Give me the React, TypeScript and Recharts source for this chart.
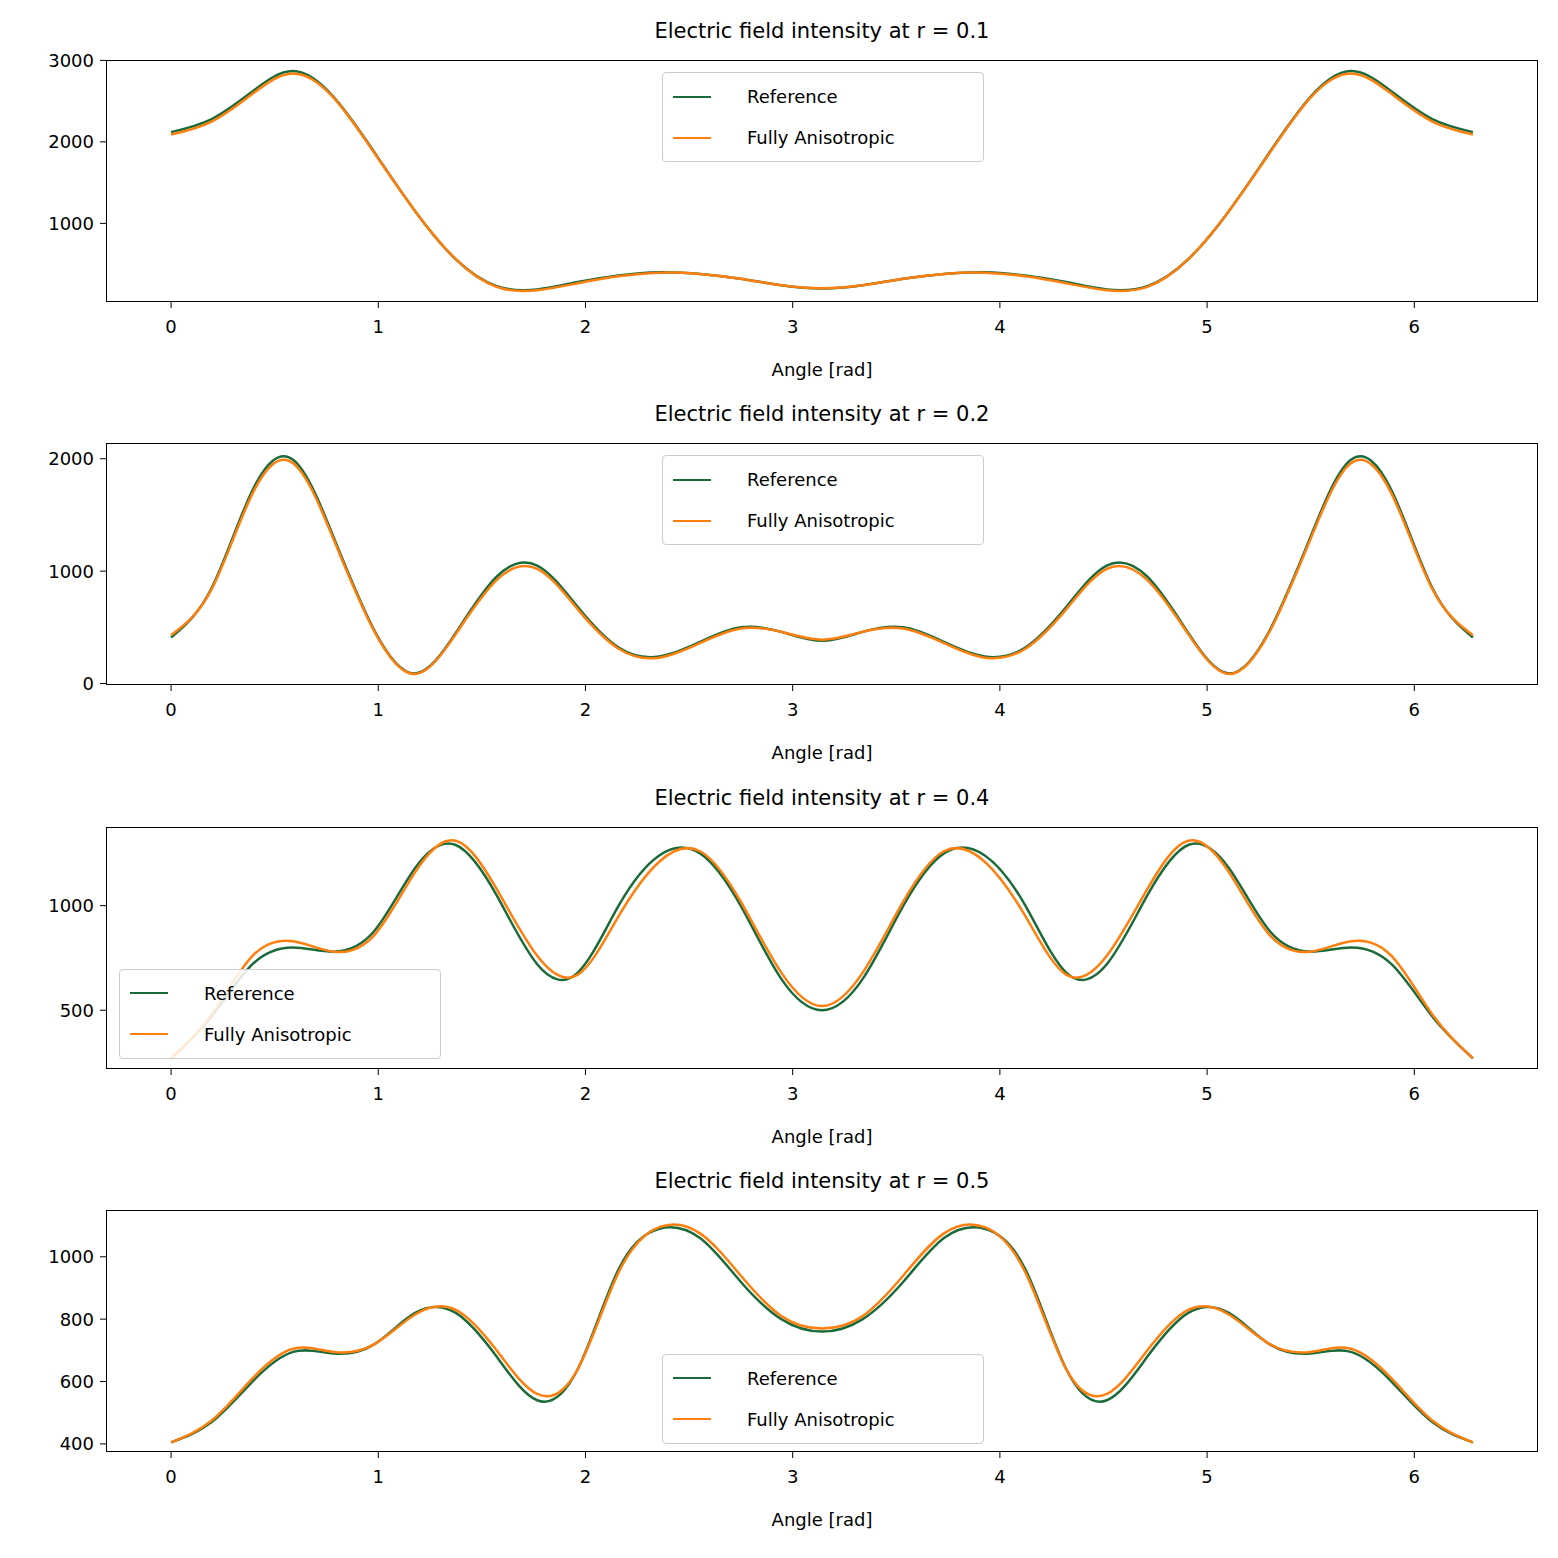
import { LineChart, Line, XAxis, YAxis } from "recharts";

// angles 0..2π at π/16 steps
const angles = [
  0, 0.196, 0.393, 0.589, 0.785, 0.982, 1.178, 1.374, 1.571, 1.767, 1.963, 2.16, 2.356, 2.553, 2.749, 2.945,
  3.142, 3.338, 3.534, 3.73, 3.927, 4.123, 4.32, 4.516, 4.712, 4.909, 5.105, 5.301, 5.498, 5.694, 5.89, 6.087, 6.283,
];

const ref01 = [2120, 2280, 2620, 2870, 2550, 1870, 1150, 560, 230, 190, 280, 360, 400, 380, 320, 240, 200, 240, 320, 380, 400, 360, 280, 190, 230, 560, 1150, 1870, 2550, 2870, 2620, 2280, 2120];
const ani01 = [2090, 2250, 2590, 2840, 2540, 1860, 1150, 560, 220, 180, 265, 350, 395, 380, 320, 240, 205, 240, 320, 380, 395, 350, 265, 180, 220, 560, 1150, 1860, 2540, 2840, 2590, 2250, 2090];

const ref02 = [410, 850, 1720, 1990, 1300, 470, 90, 450, 950, 1050, 680, 320, 240, 370, 500, 460, 380, 460, 500, 370, 240, 320, 680, 1050, 950, 450, 90, 470, 1300, 1990, 1720, 850, 410];
const ani02 = [430, 840, 1690, 1960, 1280, 460, 85, 440, 920, 1020, 660, 310, 230, 360, 490, 460, 390, 460, 490, 360, 230, 310, 660, 1020, 920, 440, 85, 460, 1280, 1960, 1690, 840, 430];

const ref04 = [270, 470, 720, 800, 780, 880, 1180, 1290, 1050, 720, 680, 1000, 1240, 1250, 1000, 650, 500, 650, 1000, 1250, 1240, 1000, 680, 720, 1050, 1290, 1180, 880, 780, 800, 720, 470, 270];
const ani04 = [270, 480, 760, 830, 780, 860, 1160, 1310, 1080, 760, 670, 950, 1210, 1260, 1020, 680, 520, 680, 1020, 1260, 1210, 950, 670, 760, 1080, 1310, 1160, 860, 780, 830, 760, 480, 270];

const ref05 = [405, 470, 600, 695, 690, 720, 820, 820, 680, 540, 640, 960, 1090, 1060, 920, 800, 760, 800, 920, 1060, 1090, 960, 640, 540, 680, 820, 820, 720, 690, 695, 600, 470, 405];
const ani05 = [405, 475, 610, 705, 695, 720, 815, 830, 700, 560, 640, 950, 1095, 1075, 940, 810, 770, 810, 940, 1075, 1095, 950, 640, 560, 700, 830, 815, 720, 695, 705, 610, 475, 405];

const xTicks = [0, 1, 2, 3, 4, 5, 6];

const panels = [
  { r: "0.1", ref: ref01, ani: ani01, domain: [35, 3005], ticks: [1000, 2000, 3000], legend: { left: 662, top: 72 } },
  { r: "0.2", ref: ref02, ani: ani02, domain: [-13, 2140], ticks: [0, 1000, 2000], legend: { left: 662, top: 72 } },
  { r: "0.4", ref: ref04, ani: ani04, domain: [219, 1376], ticks: [500, 1000], legend: { left: 119, top: 202 } },
  { r: "0.5", ref: ref05, ani: ani05, domain: [374, 1150], ticks: [400, 600, 800, 1000], legend: { left: 662, top: 204 } },
];

const GREEN = "#1b6b3a";
const ORANGE = "#ff7f0e";
const FONT = "DejaVu Sans, sans-serif";
const STEP = 383.3;

function LegendBox({ left, top }: { left: number; top: number }) {
  const row = (color: string, label: string) => (
    <div style={{ display: "flex", alignItems: "center", height: 41 }}>
      <div style={{ width: 38, height: 0, borderTop: `2.5px solid ${color}`, marginRight: 36 }} />
      <span>{label}</span>
    </div>
  );
  return (
    <div
      style={{
        position: "absolute", left, top, width: 322, height: 90, boxSizing: "border-box",
        border: "1px solid #ccc", borderRadius: 4, background: "rgba(255,255,255,0.85)",
        padding: "3px 10px", fontFamily: FONT, fontSize: 18,
      }}
    >
      {row(GREEN, "Reference")}
      {row(ORANGE, "Fully Anisotropic")}
    </div>
  );
}

function Panel({ p, index }: { p: (typeof panels)[number]; index: number }) {
  const data = angles.map((a, i) => ({ a, ref: p.ref[i], ani: p.ani[i] }));
  const tickStyle = { fontSize: 18, fill: "#000", fontFamily: FONT };
  return (
    <div style={{ position: "absolute", left: 0, top: index * STEP, width: 1558, height: 383 }}>
      <div style={{ position: "absolute", top: 19, left: 106, width: 1432, textAlign: "center", fontFamily: FONT, fontSize: 21 }}>
        Electric field intensity at r = {p.r}
      </div>
      <LineChart width={1558} height={383} data={data} margin={{ top: 60, right: 20, bottom: 51, left: 46 }}>
        <XAxis
          dataKey="a" type="number" domain={[-0.314, 6.597]} ticks={xTicks} allowDataOverflow
          axisLine={false} tickLine={{ stroke: "#000" }} tickSize={6} tick={{ ...tickStyle, dy: 10 }} height={30}
        />
        <YAxis
          type="number" domain={p.domain} ticks={p.ticks} allowDataOverflow width={60}
          axisLine={false} tickLine={{ stroke: "#000" }} tickSize={6} tick={{ ...tickStyle, dx: -4 }}
        />
        <Line dataKey="ref" type="natural" stroke={GREEN} strokeWidth={2.5} dot={false} isAnimationActive={false} />
        <Line dataKey="ani" type="natural" stroke={ORANGE} strokeWidth={2.5} dot={false} isAnimationActive={false} />
      </LineChart>
      <div style={{ position: "absolute", left: 106, top: 60, width: 1432, height: 242, boxSizing: "border-box", border: "1px solid #000", pointerEvents: "none" }} />
      <div style={{ position: "absolute", top: 359, left: 106, width: 1432, textAlign: "center", fontFamily: FONT, fontSize: 18 }}>
        Angle [rad]
      </div>
      <LegendBox left={p.legend.left} top={p.legend.top} />
    </div>
  );
}

export default function App() {
  return (
    <div style={{ position: "absolute", left: 0, top: 0, width: 1558, height: 1558, background: "#fff" }}>
      {panels.map((p, i) => (
        <Panel key={p.r} p={p} index={i} />
      ))}
    </div>
  );
}
